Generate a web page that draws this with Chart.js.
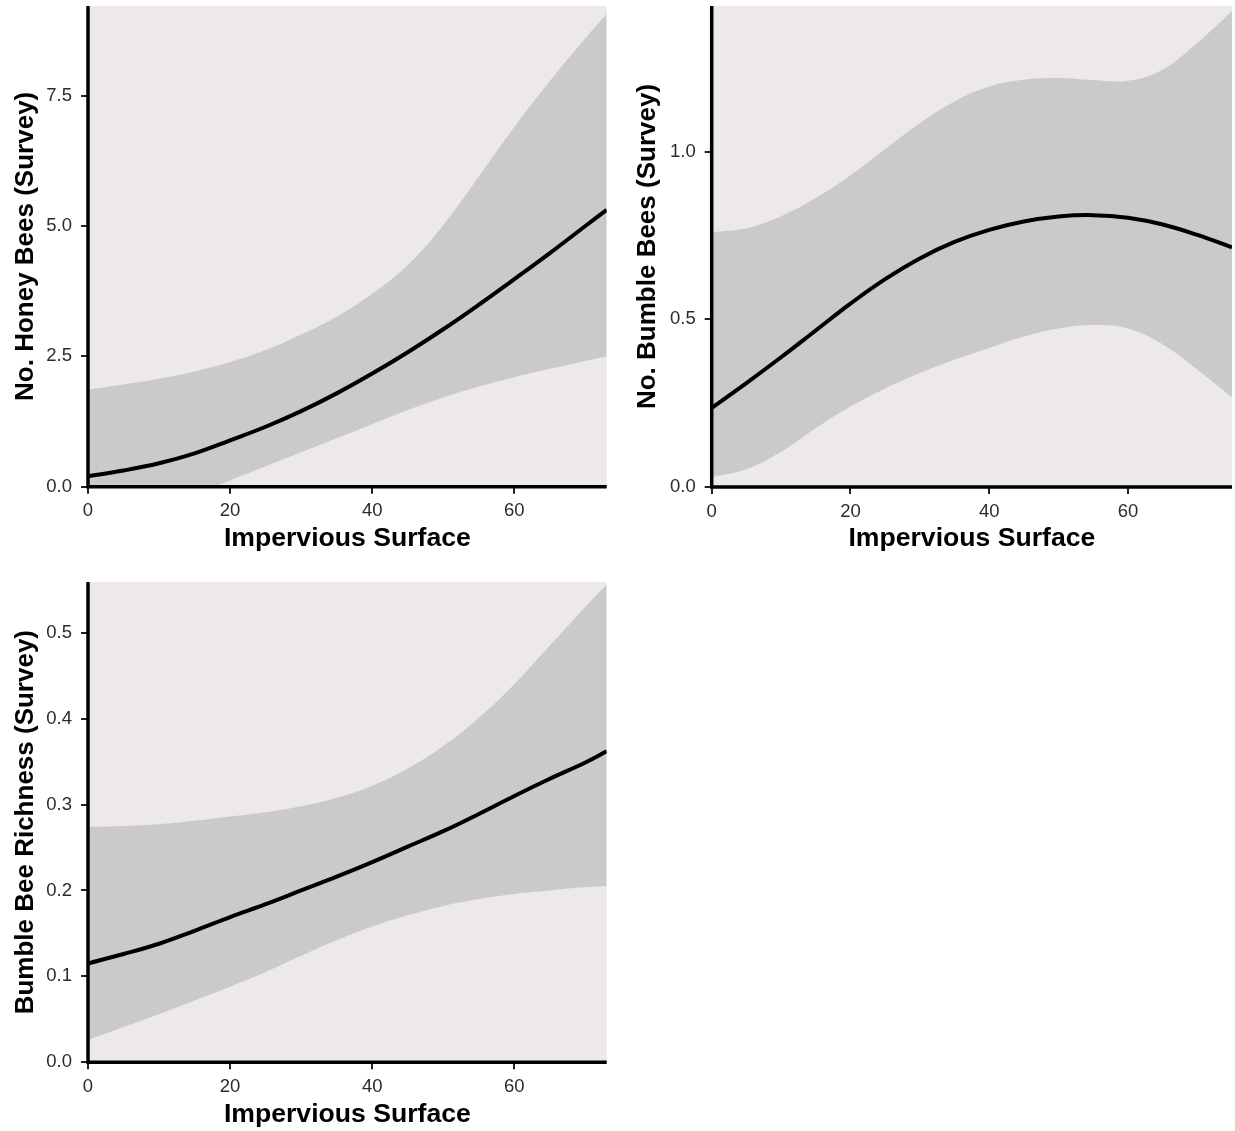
<!DOCTYPE html>
<html>
<head>
<meta charset="utf-8">
<script src="https://cdn.jsdelivr.net/npm/chart.js@4/dist/chart.umd.min.js"></script>
<style>
  html, body { margin: 0; padding: 0; background: #ffffff; }
  body { width: 1235px; height: 1131px; position: relative; overflow: hidden; }
  canvas { position: absolute; }
</style>
</head>
<body>
<canvas id="honey" width="615" height="555" style="left:0px;top:0px"></canvas>
<canvas id="bumble" width="612" height="555" style="left:623px;top:0px"></canvas>
<canvas id="richness" width="615" height="555" style="left:0px;top:576px"></canvas>
<script>
// Impervious surface (%) at which the fitted models are evaluated
const surfaceA = [0, 5, 10, 15, 20, 25, 30, 35, 40, 45, 50, 55, 60, 65, 70, 73];
const surfaceB = [0, 5, 10, 15, 20, 25, 30, 35, 40, 45, 50, 55, 60, 65, 70, 75];

// No. honey bees (survey): fitted mean and 95% confidence limits
const honeyFit   = [0.20, 0.31, 0.45, 0.64, 0.89, 1.15, 1.45, 1.79, 2.17, 2.58, 3.02, 3.49, 3.98, 4.48, 5.00, 5.31];
const honeyUpper = [1.86, 1.96, 2.07, 2.21, 2.39, 2.62, 2.92, 3.26, 3.70, 4.25, 5.02, 5.95, 6.90, 7.78, 8.60, 9.07];
const honeyLower = [-1.10, -0.75, -0.42, -0.15, 0.12, 0.39, 0.66, 0.93, 1.20, 1.47, 1.71, 1.92, 2.10, 2.26, 2.41, 2.50];

// No. bumble bees (survey)
const bumbleFit   = [0.236, 0.310, 0.387, 0.467, 0.547, 0.620, 0.682, 0.731, 0.767, 0.792, 0.807, 0.811, 0.803, 0.783, 0.752, 0.715];
const bumbleUpper = [0.760, 0.772, 0.808, 0.862, 0.930, 1.008, 1.085, 1.150, 1.195, 1.215, 1.220, 1.214, 1.212, 1.245, 1.325, 1.420];
const bumbleLower = [0.029, 0.053, 0.105, 0.175, 0.240, 0.294, 0.340, 0.380, 0.415, 0.449, 0.473, 0.483, 0.473, 0.426, 0.350, 0.268];

// Bumble bee richness (survey)
const richFit   = [0.115, 0.126, 0.138, 0.153, 0.169, 0.184, 0.200, 0.216, 0.233, 0.251, 0.269, 0.289, 0.310, 0.330, 0.349, 0.362];
const richUpper = [0.274, 0.275, 0.277, 0.281, 0.286, 0.291, 0.298, 0.308, 0.322, 0.342, 0.368, 0.401, 0.440, 0.485, 0.530, 0.556];
const richLower = [0.026, 0.041, 0.056, 0.072, 0.088, 0.105, 0.124, 0.142, 0.158, 0.171, 0.182, 0.190, 0.196, 0.200, 0.204, 0.205];

// Axis ticks
const surfaceTicks  = [0, 20, 40, 60];
const honeyTicks    = [0, 2.5, 5, 7.5];
const bumbleTicks   = [0, 0.5, 1.0];
const richTicks     = [0, 0.1, 0.2, 0.3, 0.4, 0.5];

// Axis titles
const xTitle = 'Impervious Surface';
const honeyTitle  = 'No. Honey Bees (Survey)';
const bumbleTitle = 'No. Bumble Bees (Survey)';
const richTitle   = 'Bumble Bee Richness (Survey)';

const PANEL_BG = '#ece9e8';
const BAND = '#cacaca';
const TICK_TEXT = '#2b2b2b';

Chart.defaults.font.family = '"Liberation Sans", Arial, sans-serif';

// Panel background underneath the band, and the L-shaped axis lines on top
const panelFrame = {
  id: 'panelFrame',
  beforeDatasetsDraw(chart) {
    const { ctx, chartArea: a } = chart;
    ctx.save();
    ctx.fillStyle = PANEL_BG;
    ctx.fillRect(a.left, a.top, a.right - a.left, a.bottom - a.top);
    ctx.restore();
  },
  afterDatasetsDraw(chart) {
    const { ctx, chartArea: a } = chart;
    ctx.save();
    ctx.strokeStyle = '#000000';
    ctx.lineWidth = 3.5;
    ctx.lineJoin = 'miter';
    ctx.lineCap = 'butt';
    ctx.beginPath();
    ctx.moveTo(a.left, a.top);
    ctx.lineTo(a.left, a.bottom);
    ctx.lineTo(a.right, a.bottom);
    ctx.stroke();
    ctx.restore();
  }
};

function pts(xs, ys) {
  return xs.map((x, i) => ({ x: x, y: ys[i] }));
}

function noScalePadding(s) {
  s.paddingTop = 0;
  s.paddingBottom = 0;
  s.paddingLeft = 0;
  s.paddingRight = 0;
}

function makePanel(id, cfg) {
  new Chart(document.getElementById(id), {
    type: 'line',
    data: {
      datasets: [
        {
          data: pts(cfg.xs, cfg.fit),
          borderColor: '#000000',
          borderWidth: 4,
          pointRadius: 0,
          fill: false,
          tension: 0.4,
          order: 0
        },
        {
          data: pts(cfg.xs, cfg.upper),
          borderWidth: 0,
          borderColor: 'rgba(0,0,0,0)',
          backgroundColor: BAND,
          pointRadius: 0,
          fill: '+1',
          tension: 0.4,
          order: 1
        },
        {
          data: pts(cfg.xs, cfg.lower),
          borderWidth: 0,
          borderColor: 'rgba(0,0,0,0)',
          pointRadius: 0,
          fill: false,
          tension: 0.4,
          order: 2
        }
      ]
    },
    options: {
      responsive: false,
      animation: false,
      events: [],
      elements: { line: { capBezierPoints: false } },
      layout: { padding: { top: 6, right: cfg.padRight, left: 0, bottom: 0 } },
      plugins: { legend: { display: false }, tooltip: { enabled: false } },
      scales: {
        x: {
          type: 'linear',
          min: 0,
          max: cfg.xMax,
          afterFit: s => { s.height = cfg.xAxisHeight; noScalePadding(s); },
          afterBuildTicks: s => { s.ticks = surfaceTicks.map(v => ({ value: v })); },
          border: { display: false },
          grid: { display: true, drawOnChartArea: false, drawTicks: true, tickLength: 7, lineWidth: 2, color: '#222222' },
          ticks: {
            color: TICK_TEXT,
            font: { size: 18.5 },
            padding: 6.5,
            maxRotation: 0,
            autoSkip: false,
            callback: v => String(v)
          },
          title: {
            display: true,
            text: xTitle,
            color: '#000000',
            font: { size: 26.6, weight: 'bold' },
            padding: { top: 0, bottom: 0 }
          }
        },
        y: {
          type: 'linear',
          min: 0,
          max: cfg.yMax,
          afterFit: s => { s.width = cfg.yAxisWidth; noScalePadding(s); },
          afterBuildTicks: s => { s.ticks = cfg.yTicks.map(v => ({ value: v })); },
          border: { display: false },
          grid: { display: true, drawOnChartArea: false, drawTicks: true, tickLength: 7, lineWidth: 2, color: '#222222' },
          ticks: {
            color: TICK_TEXT,
            font: { size: 18.5 },
            padding: 9,
            autoSkip: false,
            callback: v => v.toFixed(1)
          },
          title: {
            display: true,
            text: cfg.yTitle,
            color: '#000000',
            font: { size: 26, weight: 'bold' },
            padding: { top: cfg.yTitlePad, bottom: 0 }
          }
        }
      }
    },
    plugins: [panelFrame]
  });
}

makePanel('honey', {
  xs: surfaceA, fit: honeyFit, upper: honeyUpper, lower: honeyLower,
  xMax: 73, yMax: 9.22, yTicks: honeyTicks, yTitle: honeyTitle,
  padRight: 8.3, yAxisWidth: 88, xAxisHeight: 68.3, yTitlePad: 10.2
});

makePanel('bumble', {
  xs: surfaceB, fit: bumbleFit, upper: bumbleUpper, lower: bumbleLower,
  xMax: 75, yMax: 1.435, yTicks: bumbleTicks, yTitle: bumbleTitle,
  padRight: 3, yAxisWidth: 88.7, xAxisHeight: 68, yTitlePad: 9
});

makePanel('richness', {
  xs: surfaceA, fit: richFit, upper: richUpper, lower: richLower,
  xMax: 73, yMax: 0.559, yTicks: richTicks, yTitle: richTitle,
  padRight: 8.3, yAxisWidth: 88, xAxisHeight: 68.7, yTitlePad: 10.2
});
</script>
</body>
</html>
